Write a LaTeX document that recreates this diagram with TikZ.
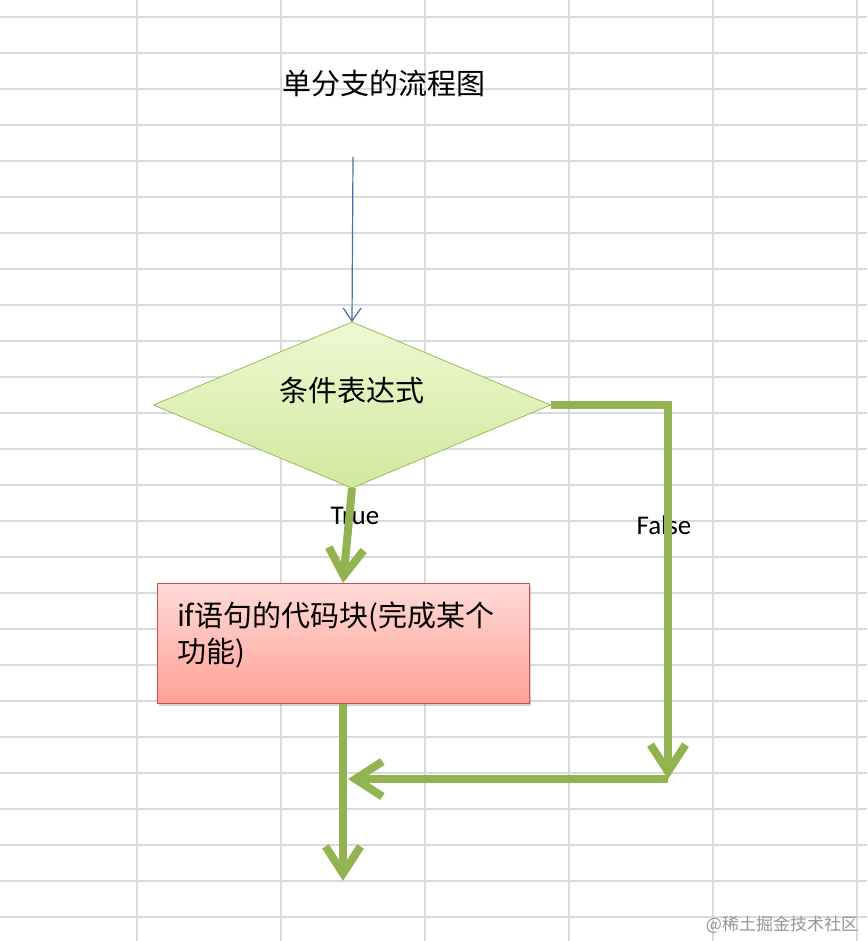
\documentclass[tikz,border=0pt]{standalone}
\usepackage{fontspec}
\setmainfont{Carlito}
\newfontfamily\cjk{Noto Sans CJK SC}
\usepackage{tikz}
\usetikzlibrary{
  shapes.geometric,
  arrows.meta,
  positioning,
  shadows
}
\definecolor{GridGray}{RGB}{216,218,222}
\definecolor{LineGreen}{RGB}{146,180,80}
\definecolor{CondEdge}{RGB}{155,187,89}
\definecolor{CondTop}{RGB}{238,248,210}
\definecolor{CondBot}{RGB}{208,233,158}
\definecolor{BlkEdge}{RGB}{200,80,77}
\definecolor{BlkTop}{RGB}{255,218,215}
\definecolor{BlkBot}{RGB}{255,160,150}
\definecolor{InBlue}{RGB}{70,110,170}
\definecolor{MarkGray}{RGB}{150,150,150}
\tikzset{
  %% -- grid of the sheet --
  gridline/.style = {draw = GridGray, line width = 1.2pt},
  %% -- flowchart nodes --
  cond/.style = {
    diamond, draw = CondEdge, line width = 0.8pt,
    top color = CondTop, bottom color = CondBot,
    minimum width = 397pt, minimum height = 166pt, aspect = 2.4,
    inner sep = 0pt, outer sep = 0pt,
    text height = 25pt, text depth = 33pt,
    font = \cjk\fontsize{29}{36}\selectfont
  },
  blk/.style = {
    rectangle, draw = BlkEdge, line width = 0.8pt,
    top color = BlkTop, bottom color = BlkBot,
    drop shadow = {opacity = 0.35, shadow xshift = 2pt, shadow yshift = -3pt},
    minimum width = 372pt, minimum height = 120pt,
    text width = 332pt, inner xsep = 20pt, align = left,
    text depth = 58pt,
    font = \cjk\fontsize{29}{36}\selectfont
  },
  ttl/.style   = {font = \cjk\fontsize{29}{36}\selectfont},
  lbl/.style   = {font = \fontsize{27}{30}\selectfont},
  wmark/.style = {text = MarkGray, font = \cjk\fontsize{17}{20}\selectfont},
  %% -- arrows --
  garr/.style = {-{Straight Barb[length=27pt, width=35pt]},
                 line width = 8pt, draw = LineGreen},
  barr/.style = {-{Straight Barb[length=13pt, width=18pt]},
                 line width = 1.2pt, draw = InBlue},
}
\begin{document}
\begin{tikzpicture}[x = 1pt, y = -1pt]

  \useasboundingbox (0,0) rectangle (867,941);
  \fill[white] (0,0) rectangle (867,941);

  %% sheet grid
  \foreach \gy in {17,53,...,917}
    \draw[gridline] (0,\gy) -- (867,\gy);
  \foreach \gx in {137,281,...,857}
    \draw[gridline] (\gx,0) -- (\gx,941);

  %% -- title / decision --
  \node[ttl] (title) at (384,83) {单分支的流程图};
  \node[cond] (dia) at (352,405) {条件表达式};

  %% -- if block --
  \node[blk, below=95pt of dia, xshift=-9pt] (box)
    {if语句的代码块(完成某个\\功能)};

  %% free ends
  \coordinate (in) at (353,157);
  \coordinate[below=177pt of box] (out);
  \coordinate (fend) at (668,779);
  \coordinate[xshift=5pt] (join) at (box.south |- fend);

  %% -- labels --
  \node[lbl] (tlbl) at (355,516) {True};
  \node[lbl] (flbl) at (664,525) {False};
  \node[wmark] (wm) at (782,925) {@稀土掘金技术社区};

  %% -- arrows --
  \draw[barr] (in)          -- (dia.north);
  \draw[garr] (dia.south)   -- (box.north);
  \draw[garr] (box.south)   -- (out);
  \draw[garr] (dia.east)    -| (fend);
  \draw[garr] (fend)        -- (join);

\end{tikzpicture}
\end{document}
